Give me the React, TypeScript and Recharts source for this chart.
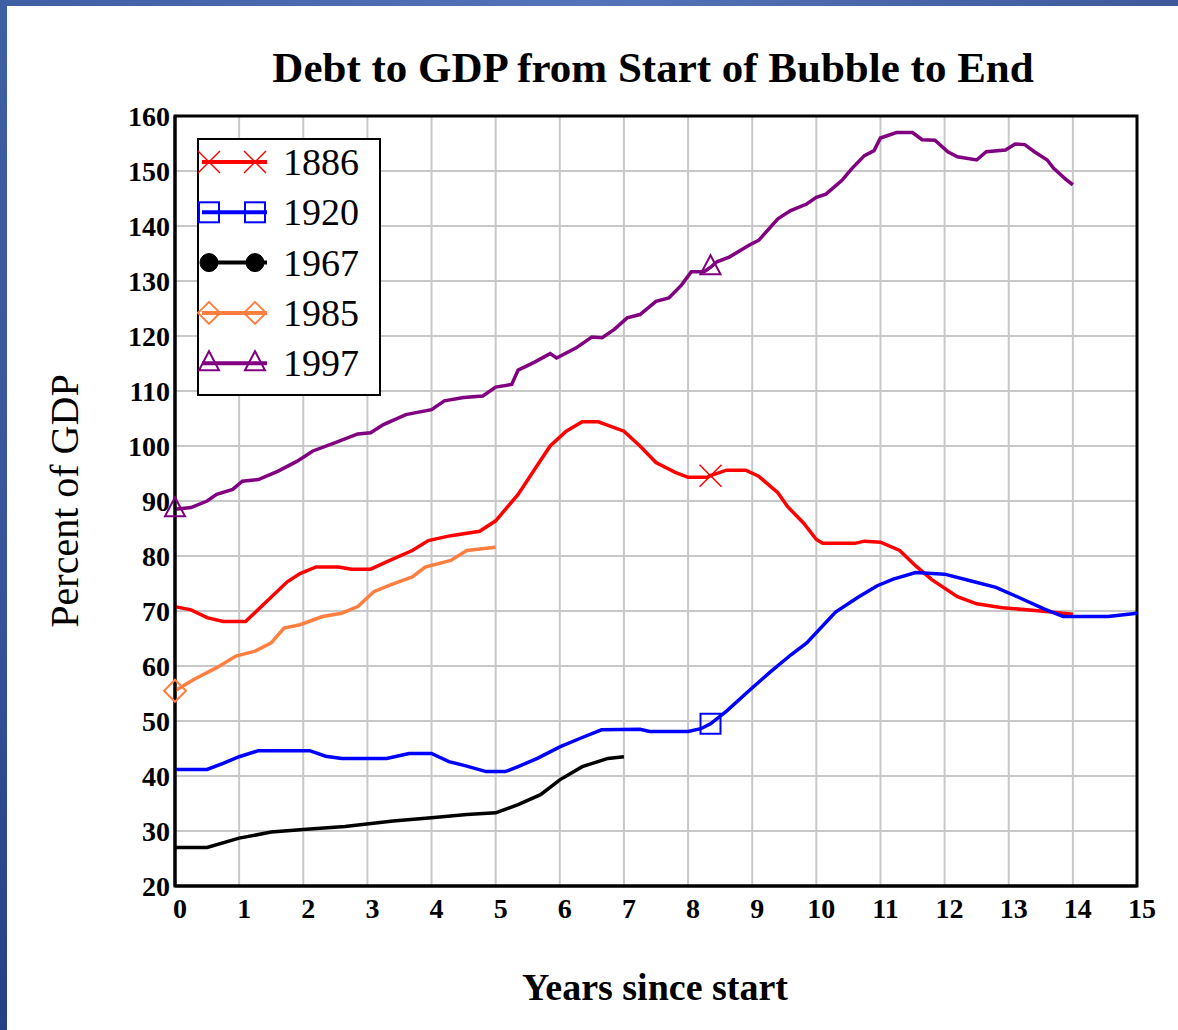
import { LineChart, Line, XAxis, YAxis, CartesianGrid, ReferenceArea } from "recharts";

// years since start, per series
const x1886 = [0, 0.25, 0.5, 0.75, 1.1, 1.4, 1.75, 1.95, 2.2, 2.55, 2.75, 3.05, 3.35, 3.7, 3.95, 4.3, 4.75, 5.0, 5.35, 5.65, 5.85, 6.1, 6.35, 6.6, 7.0, 7.25, 7.5, 7.8, 8.0, 8.3, 8.35, 8.6, 8.9, 9.1, 9.4, 9.55, 9.8, 10.0, 10.1, 10.6, 10.75, 11.0, 11.3, 11.55, 11.8, 12.2, 12.5, 12.9, 13.5, 14.0];
const y1886 = [70.8, 70.2, 68.8, 68.1, 68.1, 71.4, 75.3, 76.8, 78, 78, 77.6, 77.6, 79.2, 81, 82.8, 83.7, 84.5, 86.4, 91.2, 96.5, 100, 102.7, 104.4, 104.4, 102.7, 100, 97, 95.2, 94.3, 94.3, 94.6, 95.6, 95.6, 94.5, 91.5, 89, 86, 83, 82.3, 82.3, 82.7, 82.5, 81, 78.2, 75.7, 72.6, 71.3, 70.6, 70, 69.4];

const x1920 = [0, 0.5, 0.75, 1.0, 1.3, 2.1, 2.35, 2.6, 3.3, 3.65, 4.0, 4.27, 4.55, 4.85, 5.15, 5.35, 5.65, 6.0, 6.35, 6.65, 7.25, 7.4, 8.0, 8.2, 8.35, 8.6, 8.95, 9.27, 9.6, 9.85, 10.3, 10.65, 10.95, 11.2, 11.55, 12.0, 12.4, 12.8, 13.15, 13.55, 13.85, 14.55, 15.0];
const y1920 = [41.2, 41.2, 42.3, 43.5, 44.6, 44.6, 43.6, 43.2, 43.2, 44.1, 44.1, 42.6, 41.8, 40.8, 40.8, 41.7, 43.2, 45.3, 47, 48.4, 48.5, 48.1, 48.1, 48.6, 49.5, 51.8, 55.5, 58.8, 62, 64.2, 69.8, 72.5, 74.6, 75.8, 77, 76.7, 75.5, 74.3, 72.5, 70.4, 69, 69, 69.6];

const x1967 = [0, 0.5, 1.0, 1.5, 2.05, 2.65, 3.4, 4.0, 4.55, 5.0, 5.35, 5.7, 6.0, 6.35, 6.75, 7.0];
const y1967 = [27, 27, 28.7, 29.8, 30.3, 30.8, 31.8, 32.4, 33, 33.3, 34.8, 36.6, 39.3, 41.7, 43.2, 43.5];

const x1985 = [0, 0.3, 0.65, 0.95, 1.25, 1.5, 1.7, 1.95, 2.3, 2.6, 2.85, 3.1, 3.35, 3.7, 3.9, 4.3, 4.55, 5.0];
const y1985 = [55.5, 57.6, 59.7, 61.8, 62.7, 64.2, 66.9, 67.5, 69, 69.6, 70.8, 73.5, 74.7, 76.2, 78, 79.2, 81, 81.6];

const x1997 = [0, 0.25, 0.5, 0.65, 0.9, 1.05, 1.3, 1.6, 1.9, 2.15, 2.5, 2.85, 3.05, 3.25, 3.6, 4.0, 4.2, 4.5, 4.8, 5.0, 5.25, 5.35, 5.6, 5.85, 5.95, 6.25, 6.5, 6.66, 6.85, 7.05, 7.25, 7.5, 7.7, 7.9, 8.05, 8.25, 8.35, 8.45, 8.65, 8.95, 9.1, 9.4, 9.6, 9.85, 10.0, 10.15, 10.4, 10.55, 10.75, 10.9, 11.0, 11.25, 11.5, 11.65, 11.85, 12.05, 12.2, 12.5, 12.65, 12.95, 13.1, 13.25, 13.4, 13.6, 13.7, 13.9, 14.0];
const y1997 = [88.5, 88.8, 90, 91.2, 92.1, 93.6, 93.9, 95.4, 97.2, 99.1, 100.6, 102.2, 102.4, 103.9, 105.7, 106.6, 108.2, 108.8, 109.1, 110.7, 111.2, 113.8, 115.2, 116.8, 116, 117.8, 119.8, 119.7, 121.2, 123.3, 123.9, 126.3, 126.9, 129.3, 131.7, 131.7, 132.5, 133.5, 134.4, 136.5, 137.4, 141.3, 142.8, 144, 145.2, 145.8, 148.3, 150.4, 152.8, 153.7, 156, 157, 157, 155.7, 155.6, 153.5, 152.6, 152, 153.5, 153.8, 154.9, 154.8, 153.5, 152, 150.5, 148.4, 147.5];

// where each series shows its marker
const marks1886 = [8.35];
const marks1920 = [8.35];
const marks1967: number[] = [];
const marks1985 = [0];
const marks1997 = [0, 8.35];

const xTicks = [0, 1, 2, 3, 4, 5, 6, 7, 8, 9, 10, 11, 12, 13, 14, 15];
const yTicks = [20, 30, 40, 50, 60, 70, 80, 90, 100, 110, 120, 130, 140, 150, 160];

const toRows = (xs: number[], ys: number[]) => xs.map((x, i) => ({ x, y: ys[i] }));

const series = [
  { name: "1886", color: "#ff0000", shape: "x", data: toRows(x1886, y1886), marks: marks1886 },
  { name: "1920", color: "#0000ff", shape: "square", data: toRows(x1920, y1920), marks: marks1920 },
  { name: "1967", color: "#000000", shape: "circle", data: toRows(x1967, y1967), marks: marks1967 },
  { name: "1985", color: "#ff7f40", shape: "diamond", data: toRows(x1985, y1985), marks: marks1985 },
  { name: "1997", color: "#800080", shape: "triangle", data: toRows(x1997, y1997), marks: marks1997 },
];

const SERIF = '"Liberation Serif", "Times New Roman", serif';

function Marker({ shape, color, cx, cy }: { shape: string; color: string; cx: number; cy: number }) {
  const s = 11;
  if (shape === "x")
    return (
      <g stroke={color} strokeWidth={1.5}>
        <line x1={cx - s} y1={cy - s} x2={cx + s} y2={cy + s} />
        <line x1={cx - s} y1={cy + s} x2={cx + s} y2={cy - s} />
      </g>
    );
  if (shape === "square")
    return <rect x={cx - 10} y={cy - 10} width={20} height={20} fill="none" stroke={color} strokeWidth={2} />;
  if (shape === "diamond")
    return <polygon points={`${cx},${cy - s} ${cx + s},${cy} ${cx},${cy + s} ${cx - s},${cy}`} fill="none" stroke={color} strokeWidth={2} />;
  if (shape === "triangle")
    return <polygon points={`${cx},${cy - 12} ${cx + 10},${cy + 7} ${cx - 10},${cy + 7}`} fill="none" stroke={color} strokeWidth={2} />;
  return <circle cx={cx} cy={cy} r={9} fill={color} stroke={color} />;
}

function LegendBox() {
  return (
    <svg width={184} height={258} style={{ display: "block" }}>
      <rect x={1} y={1} width={182} height={256} fill="#fff" stroke="#000" strokeWidth={2} />
      {series.map((s, i) => {
        const cy = 24 + i * 50.3;
        return (
          <g key={s.name}>
            <line x1={5} y1={cy} x2={70} y2={cy} stroke={s.color} strokeWidth={4} />
            <Marker shape={s.shape} color={s.color} cx={12} cy={cy} />
            <Marker shape={s.shape} color={s.color} cx={58} cy={cy} />
            <text x={86} y={cy + 13} fontFamily={SERIF} fontSize={38} fill="#000">
              {s.name}
            </text>
          </g>
        );
      })}
    </svg>
  );
}

export default function App() {
  return (
    <div
      style={{
        position: "fixed",
        left: 0,
        top: 0,
        width: 1178,
        height: 1030,
        background: "linear-gradient(180deg, #3f5fa5 0%, #34539a 60%, #243f86 100%)",
        overflow: "hidden",
      }}
    >
      <div
        style={{
          position: "absolute",
          left: 0,
          top: 0,
          width: 1178,
          height: 6,
          background: "linear-gradient(90deg, #3f5fa5 0%, #5573b8 50%, #3e5a9b 100%)",
        }}
      />
      <div style={{ position: "absolute", left: 7, top: 6, width: 1171, height: 1024, background: "#fff" }} />
      <div style={{ position: "absolute", left: 0, top: 0 }}>
        <LineChart width={1178} height={1030} margin={{ top: 116, right: 41, left: 0, bottom: 0 }}>
          <CartesianGrid stroke="#c8c8c8" strokeWidth={2} />
          <XAxis
            type="number"
            dataKey="x"
            domain={[0, 15]}
            ticks={xTicks}
            interval={0}
            height={144}
            tickLine={false}
            tickSize={0}
            axisLine={{ stroke: "#000", strokeWidth: 3 }}
            tickMargin={12}
            tick={{ fill: "#000", fontFamily: SERIF, fontWeight: "bold", fontSize: 28, dx: 5 }}
            allowDuplicatedCategory={false}
          />
          <YAxis
            type="number"
            domain={[20, 160]}
            ticks={yTicks}
            interval={0}
            width={175}
            tickLine={false}
            tickSize={0}
            axisLine={{ stroke: "#000", strokeWidth: 3 }}
            tickMargin={5}
            tick={{ fill: "#000", fontFamily: SERIF, fontWeight: "bold", fontSize: 28 }}
          />
          <ReferenceArea x1={0} x2={15} y1={20} y2={160} fill="none" stroke="#000" strokeWidth={3} />
          {series.map((s) => (
            <Line
              key={s.name}
              data={s.data}
              dataKey="y"
              name={s.name}
              type="linear"
              stroke={s.color}
              strokeWidth={3.5}
              isAnimationActive={false}
              activeDot={false}
              dot={(p: any) =>
                s.marks.includes(p.payload.x) ? (
                  <g key={`${s.name}-${p.index}`}>
                    <Marker shape={s.shape} color={s.color} cx={p.cx} cy={p.cy} />
                  </g>
                ) : (
                  <g key={`${s.name}-${p.index}`} />
                )
              }
            />
          ))}
        </LineChart>
      </div>
      <div style={{ position: "absolute", left: 197, top: 138 }}>
        <LegendBox />
      </div>
      <svg width={1178} height={1030} style={{ position: "absolute", left: 0, top: 0, pointerEvents: "none" }}>
        <text x={653} y={82} textAnchor="middle" fontFamily={SERIF} fontWeight="bold" fontSize={43} fill="#000">
          Debt to GDP from Start of Bubble to End
        </text>
        <text x={655} y={1000} textAnchor="middle" fontFamily={SERIF} fontWeight="bold" fontSize={38} fill="#000">
          Years since start
        </text>
        <text
          x={78}
          y={501}
          transform="rotate(-90 78 501)"
          textAnchor="middle"
          fontFamily={SERIF}
          fontSize={40}
          fill="#000"
        >
          Percent of GDP
        </text>
      </svg>
    </div>
  );
}
